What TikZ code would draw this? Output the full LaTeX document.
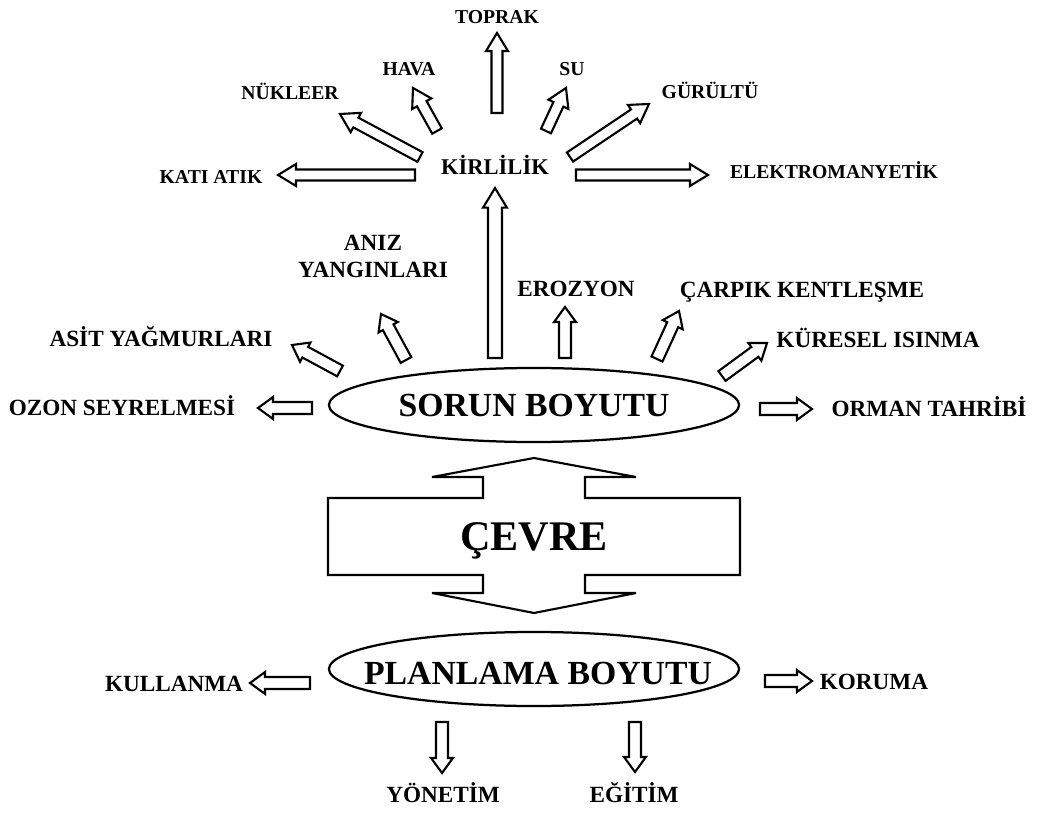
\documentclass[tikz,border=0pt]{standalone}
\usepackage{fontspec}
\setmainfont{Liberation Serif}
\usetikzlibrary{calc,shapes.geometric}
\tikzstyle{toplbl} = [font=\fontsize{14}{16}\selectfont\bfseries, text height=9.3pt, text depth=0pt, inner sep=0pt]
\tikzstyle{midlbl} = [font=\fontsize{16.5}{19}\selectfont\bfseries, text height=10.9pt, text depth=0pt, inner sep=0pt]
\tikzstyle{hub} = [font=\fontsize{16}{18}\selectfont\bfseries, text height=10.6pt, text depth=0pt, inner sep=0pt]
\tikzstyle{dimtext} = [font=\fontsize{24}{28}\selectfont\bfseries, text height=15.9pt, text depth=0pt, inner sep=0pt]
\tikzstyle{title} = [font=\fontsize{30}{34}\selectfont\bfseries, text height=19.9pt, text depth=0pt, inner sep=0pt]
\tikzstyle{oval} = [ellipse, draw, line width=1.6pt, minimum width=10.25cm, minimum height=1.85cm, inner sep=0pt]
\tikzstyle{block} = [draw, line width=1.5pt, fill=white, line join=miter]

% hollow block arrow: tail, tip, half shaft, half head, head length
\newcommand{\hollowarrow}[5]{%
  \coordinate (neck) at ($(#2)!#5!(#1)$);
  \draw[block] ($(#1)!#3!90:(#2)$) -- ($(neck)!#3!90:(#2)$) -- ($(neck)!#4!90:(#2)$) -- (#2)
    -- ($(neck)!#4!-90:(#2)$) -- ($(neck)!#3!-90:(#2)$) -- ($(#1)!#3!-90:(#2)$) -- cycle;}

\begin{document}
\begin{tikzpicture}[x=0.025cm, y=-0.025cm]
\path[use as bounding box, fill=white] (0,0) rectangle (1040,814);

% pollution branch
\node[toplbl] (toprak) at (497,17) {TOPRAK};
\node[toplbl] (hava) at (409,69) {HAVA};
\node[toplbl] (su) at (572,69) {SU};
\node[toplbl] (nukleer) at (290,93) {NÜKLEER};
\node[toplbl] (gurultu) at (710,92) {GÜRÜLTÜ};
\node[toplbl] (katiatik) at (211,177) {KATI ATIK};
\node[hub] (kirlilik) at (495,167) {KİRLİLİK};
\node[toplbl] (elektro) at (834,172) {ELEKTROMANYETİK};

\foreach \nm/\xa/\ya/\xb/\yb in {toprak/497/113/497/33, hava/437/131/413/88, su/546/131/566/88,
    nukleer/420/157/340/114, gurultu/570/157/649/104, katiatik/415/175/278/175, elektro/576/175/708/175}
{
  \coordinate (\nm-tail) at (\xa,\ya);
  \coordinate (\nm-tip) at (\xb,\yb);
  \hollowarrow{\nm-tail}{\nm-tip}{3.9pt}{7.8pt}{12.8pt}
}

% problem dimension
\node[midlbl, align=center] (aniz) at (373,270) {ANIZ\\YANGINLARI};
\node[midlbl] (asit) at (161,339) {ASİT YAĞMURLARI};
\node[midlbl] (erozyon) at (576,289) {EROZYON};
\node[midlbl] (carpik) at (802,290) {ÇARPIK KENTLEŞME};
\node[midlbl] (kuresel) at (878,340) {KÜRESEL ISINMA};
\node[midlbl] (ozon) at (122,408) {OZON SEYRELMESİ};
\node[midlbl] (orman) at (929,409) {ORMAN TAHRİBİ};
\node[oval] (sorun) at (534,405) {};
\node[dimtext] (soruntext) at (sorun) {SORUN BOYUTU};

\coordinate (big-tail) at (495,358);
\coordinate (big-tip) at (495,188);
\hollowarrow{big-tail}{big-tip}{5pt}{8.5pt}{14pt}

% planning dimension
\node[oval] (plan) at (534,669) {};
\node[dimtext] (plantext) at (538,673) {PLANLAMA BOYUTU};
\node[midlbl] (kullanma) at (174,684) {KULLANMA};
\node[midlbl] (koruma) at (874,682) {KORUMA};
\node[midlbl] (yonetim) at (443,795) {YÖNETİM};
\node[midlbl] (egitim) at (634,795) {EĞİTİM};

\foreach \nm/\xa/\ya/\xb/\yb in {aniz/406/360/381/314, asit/340/371/292/345, erozyon/565/358/565/307,
    carpik/657/359/679/311, kuresel/722/376/767/343, ozon/312/408/258/408, orman/760/409/812/409,
    kullanma/310/683/250/683, koruma/765/681/812/681, yonetim/442/722/442/773, egitim/635/722/635/772}
{
  \coordinate (\nm-tail) at (\xa,\ya);
  \coordinate (\nm-tip) at (\xb,\yb);
  \hollowarrow{\nm-tail}{\nm-tip}{4.3pt}{7.8pt}{10.7pt}
}

% central double arrow
\draw[block] (534,458) -- (636,477) -- (585,477) -- (585,498) -- (740,498) -- (740,575)
  -- (585,575) -- (585,593) -- (636,593) -- (534,613) -- (432,593) -- (483,593) -- (483,575)
  -- (328,575) -- (328,498) -- (483,498) -- (483,477) -- (432,477) -- cycle;
\node[title] (cevre) at (534,537) {ÇEVRE};
\end{tikzpicture}
\end{document}
